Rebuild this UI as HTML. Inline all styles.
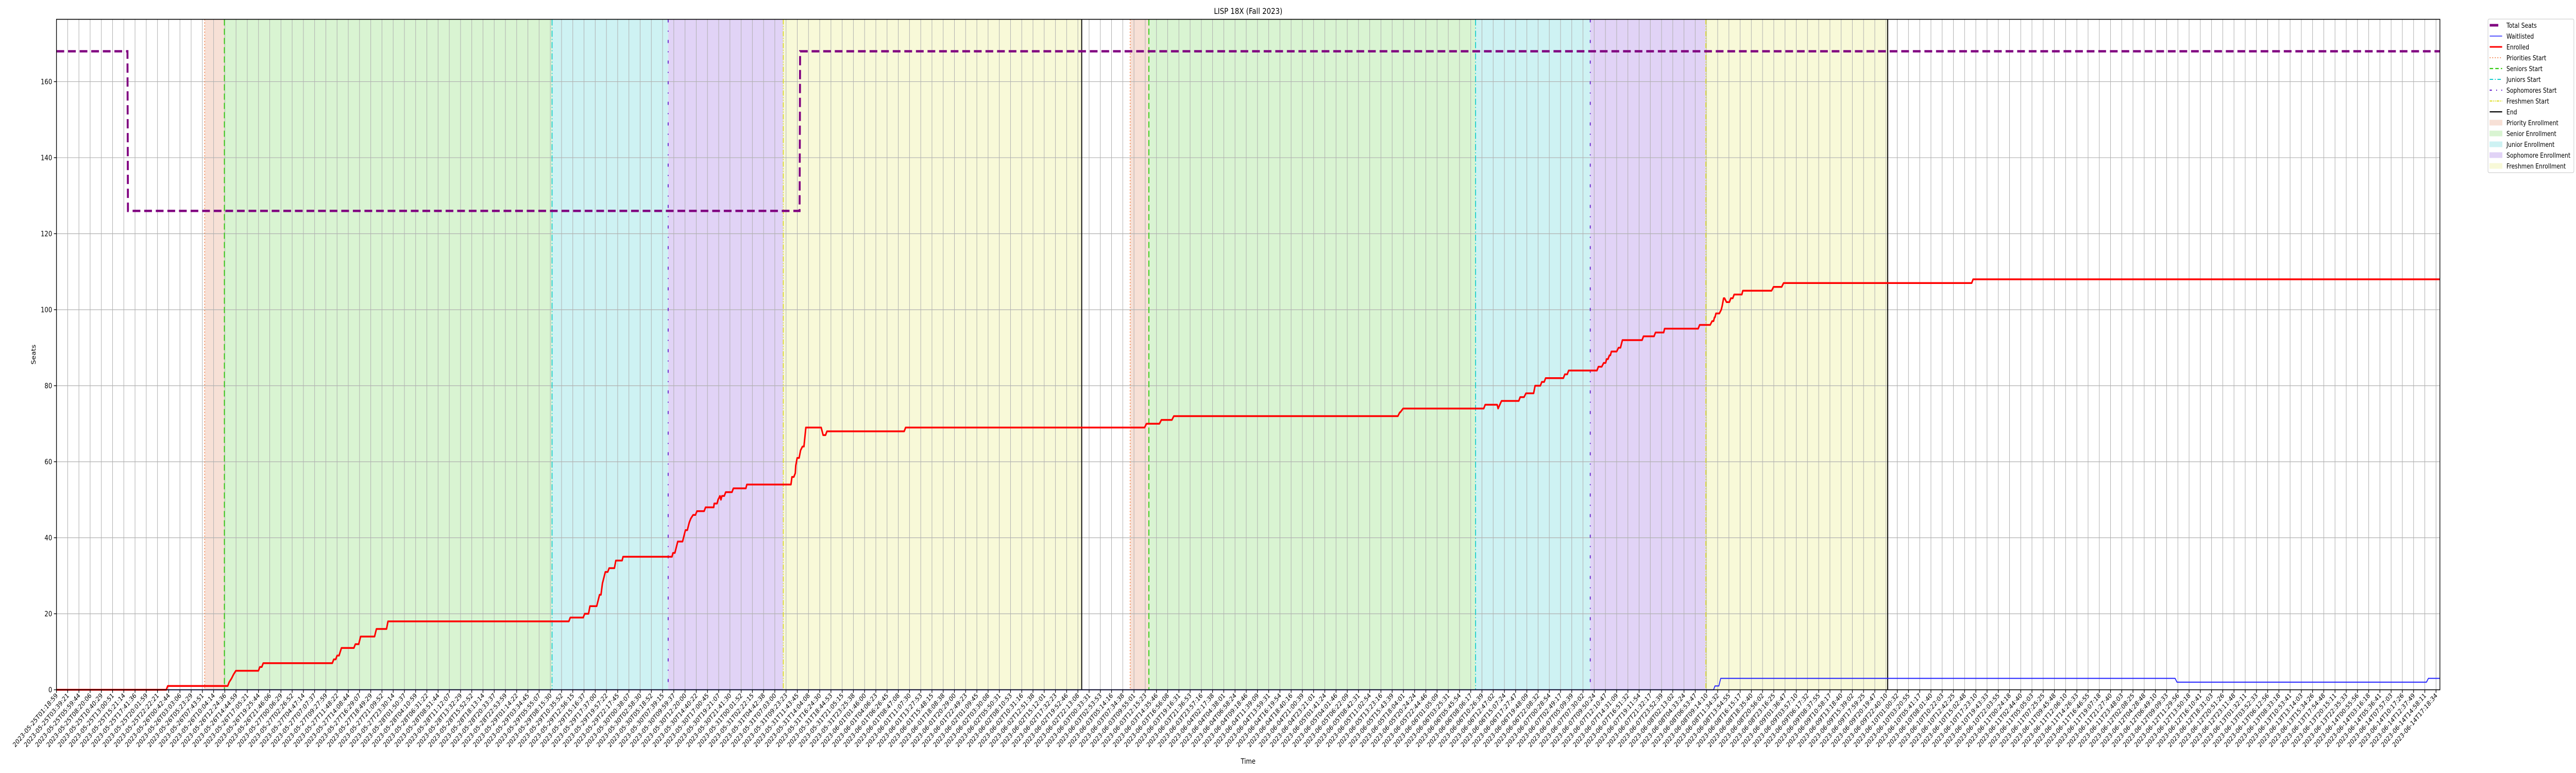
<!DOCTYPE html>
<html><head><meta charset="utf-8"><title>LISP 18X (Fall 2023)</title>
<style>html,body{margin:0;padding:0;background:#fff;width:100%;height:100%;overflow:hidden;}svg{display:block;width:100vw;height:100vh;overflow:hidden;font-family:"DejaVu Sans","Liberation Sans",sans-serif;}</style>
</head><body>
<svg id="chart" viewBox="0 0 6000 1500" preserveAspectRatio="none" xmlns="http://www.w3.org/2000/svg">
<rect width="6000" height="1500" fill="#fff"/>
<g id="regions"></g><g id="grid"></g><g id="vlines"></g><g id="series"></g><g id="axes"></g><g id="legend"></g>
</svg>
<script>
// ---- data (x values in hours since 2023-05-25T01:18:59) ----
const enrolledHours = [0,22.9,23.2,35.7,36.0,36.5,36.9,37.4,42.1,42.4,42.8,43.1,57.5,57.8,58.2,58.5,58.9,59.4,62.0,62.3,63.0,63.2,63.4,66.3,66.7,68.8,69.1,106.8,107.1,109.8,110.1,110.9,111.2,112.6,113.2,113.5,113.8,114.4,114.9,115.2,116.3,116.6,117.9,118.1,128.3,128.5,128.9,129.5,130.5,131.1,131.5,131.9,132.2,132.7,133.2,133.5,135.0,135.3,137.0,137.1,137.7,137.9,138.3,138.5,138.7,139.2,139.5,140.8,141.1,143.7,143.9,153.1,153.3,153.7,154.0,154.1,154.4,154.8,155.1,155.5,155.8,156.2,159.4,159.8,160.3,160.6,176.7,177.0,226.8,227.2,229.9,230.3,232.5,232.9,279.6,280.0,280.1,280.7,297.5,297.8,300.3,300.5,301.2,304.8,305.1,305.9,306.3,307.9,308.2,309.3,309.6,310.1,310.4,314.1,314.4,314.9,315.2,321.1,321.4,322.1,322.5,322.9,323.1,323.4,323.7,323.9,324.1,325.2,325.6,326.0,326.4,330.5,330.8,333.0,333.3,335.0,335.2,342.2,342.5,344.7,345.1,345.4,345.6,345.7,345.9,346.6,347.0,347.2,347.5,347.7,348.1,348.7,349.0,349.4,349.7,351.3,351.5,357.5,357.9,359.6,360.0,399.2,399.5,496.8];
const enrolledValues = [0,0,1,1,2,3,4,5,5,6,6,7,7,8,8,9,9,11,11,12,12,13,14,14,16,16,18,18,19,19,20,20,22,22,25,25,28,31,31,32,32,34,34,35,35,36,36,39,39,42,42,44,45,46,46,47,47,48,48,49,49,50,51,50,51,51,52,52,53,53,54,54,56,56,57,59,61,61,63,64,64,69,69,67,67,68,68,69,69,70,70,71,71,72,72,73,73,74,74,75,75,74,76,76,77,77,78,78,80,80,81,81,82,82,83,83,84,84,85,85,86,86,87,87,88,88,89,89,90,90,92,92,93,93,94,94,95,95,96,96,97,97,98,98,99,99,100,101,103,103,102,102,103,103,104,104,105,105,106,106,107,107,108,108];
const waitHours = [0,345.4,345.7,346.5,346.9,441.6,442.0,494.0,494.4,496.8];
const waitValues = [0,0,1,1,3,3,2,2,3,3];
const seatsHours = [0,14.8,14.9,154.9,155.0,496.8];
const seatsValues = [168,168,126,126,168,168];
const phaseStarts = [30.9,35.0,103.3,127.5,151.5,223.8,227.7,295.8,319.7,343.8];
const phaseEnds   = [35.0,103.3,127.5,151.5,213.7,227.7,295.8,319.7,343.8,381.7];
const phaseKinds  = ["priority","senior","junior","sophomore","freshmen","priority","senior","junior","sophomore","freshmen"];
const endHours = [213.7,381.7];
const yTicks = [0,20,40,60,80,100,120,140,160];
const tickCount = 213;
const tickStartLabel = "2023-05-25T01:18:59";
const tickStepHours = 2.33959;

// ---- scales ----
const X0=131.5, X1=5683, Y0=1338.5, Y1=37.5, XMAX=496.8, YMAX=176.4;
const sx = h => X0 + h/XMAX*(X1-X0);
const sy = v => Y0 - v/YMAX*(Y0-Y1);
const NS="http://www.w3.org/2000/svg";
function mk(tag, attrs, parent){const e=document.createElementNS(NS,tag);for(const k in attrs)e.setAttribute(k,attrs[k]);if(parent)parent.appendChild(e);return e;}
const fills={priority:"#f7e0d6",senior:"#d9f4d2",junior:"#cef2f3",sophomore:"#e1d3f6",freshmen:"#f8f9d8"};
const lineStyle={priority:["#f07030","2,4",1.8],senior:["#33cc11","12,6",2.2],junior:["#11cccc","12,4,2,4",2],sophomore:["#6622cc","6,16,2,16",2.2],freshmen:["#dddd22","10,3,2,3,2,3",2]};

const regions=document.getElementById('regions');
phaseStarts.forEach((s,i)=>{
  const r=mk('rect',{x:sx(s),y:Y1,width:sx(phaseEnds[i])-sx(s),height:Y0-Y1,fill:fills[phaseKinds[i]]},regions);
  
  
});

const grid=document.getElementById('grid');
const ticksX=[];
for(let i=0;i<tickCount;i++){ticksX.push(i*tickStepHours);}
ticksX.forEach(h=>{const l=mk('line',{x1:sx(h),x2:sx(h),y1:Y1,y2:Y0,stroke:"#b0b0b0","stroke-width":1.2},grid);
  
  });
yTicks.forEach(v=>{const l=mk('line',{x1:X0,x2:X1,y1:sy(v),y2:sy(v),stroke:"#b0b0b0","stroke-width":1.2},grid);
  
  });

const vl=document.getElementById('vlines');
phaseStarts.forEach((s,i)=>{const st=lineStyle[phaseKinds[i]];
  const l=mk('line',{x1:sx(s),x2:sx(s),y1:Y1,y2:Y0,stroke:st[0],"stroke-width":st[2],"stroke-dasharray":st[1]},vl);
  
  });
endHours.forEach(h=>{const l=mk('line',{x1:sx(h),x2:sx(h),y1:Y1,y2:Y0,stroke:"#000","stroke-width":2.2},vl);
  
  });

const ser=document.getElementById('series');
function pts(hs,vs){return hs.map((h,i)=>sx(h).toFixed(1)+","+sy(vs[i]).toFixed(1)).join(" ");}
const wl=mk('polyline',{points:pts(waitHours,waitValues),fill:"none",stroke:"#2020ff","stroke-width":2,"stroke-linejoin":"round"},ser);


const en=mk('polyline',{points:pts(enrolledHours,enrolledValues),fill:"none",stroke:"#ff0000","stroke-width":3.5,"stroke-linejoin":"round"},ser);


const ts=mk('polyline',{points:pts(seatsHours,seatsValues),fill:"none",stroke:"#800080","stroke-width":4.5,"stroke-dasharray":"18,9"},ser);



const ax=document.getElementById('axes');
const frame=mk('rect',{x:X0,y:Y1,width:X1-X0,height:Y0-Y1,fill:"none",stroke:"#000","stroke-width":1.6},ax);


yTicks.forEach(v=>{
  mk('line',{x1:X0-6,x2:X0,y1:sy(v),y2:sy(v),stroke:"#000","stroke-width":1.4},ax);
  const t=mk('text',{x:X0-10,y:sy(v)+5,"text-anchor":"end","font-size":14,fill:"#000"},ax);
  t.textContent=v;
  
  
});
const base=Date.UTC(2023,4,25,1,18,59);
function p2(n){return String(n).padStart(2,'0');}
ticksX.forEach(h=>{
  const x=sx(h);
  mk('line',{x1:x,x2:x,y1:Y0,y2:Y0+6,stroke:"#000","stroke-width":1.4},ax);
  const d=new Date(base+h*3600000);
  const s=d.getUTCFullYear()+"-"+p2(d.getUTCMonth()+1)+"-"+p2(d.getUTCDate())+"T"+p2(d.getUTCHours())+":"+p2(d.getUTCMinutes())+":"+p2(d.getUTCSeconds());
  const t=mk('text',{transform:`translate(${(x+4).toFixed(1)},${Y0+12}) rotate(-45)`,"text-anchor":"end","font-size":13,fill:"#000"},ax);
  t.textContent=(h===0?tickStartLabel:s);
  
  
});
const title=mk('text',{x:(X0+X1)/2,y:27,"text-anchor":"middle","font-size":16,fill:"#000"},ax);
title.textContent="LISP 18X (Fall 2023)";


const xl=mk('text',{x:(X0+X1)/2,y:1482,"text-anchor":"middle","font-size":14,fill:"#000"},ax);
xl.textContent="Time";


const yl=mk('text',{transform:`translate(83,${(Y0+Y1)/2}) rotate(-90)`,"text-anchor":"middle","font-size":14,fill:"#000"},ax);
yl.textContent="Seats";



const lg=document.getElementById('legend');
const lb=mk('rect',{x:5795,y:37,width:200,height:298,rx:3,fill:"#fff",stroke:"#d0d0d0","stroke-width":1.3},lg);


const legendLabels=["Total Seats","Waitlisted","Enrolled","Priorities Start","Seniors Start","Juniors Start","Sophomores Start","Freshmen Start","End","Priority Enrollment","Senior Enrollment","Junior Enrollment","Sophomore Enrollment","Freshmen Enrollment"];
const legendKinds=[["line","#800080",5,""],["line","#2020ff",1.5,""],["line","#ff0000",3,""],["line","#f07030",1.8,"2,4"],["line","#33cc11",2.2,"8,5"],["line","#11cccc",2,"8,4,2,4"],["line","#6622cc",2.2,"5,10,2,10"],["line","#dddd22",2,"6,2,2,2,2,2"],["line","#000",2.2,""],["rect","#f7e0d6"],["rect","#d9f4d2"],["rect","#cef2f3"],["rect","#e1d3f6"],["rect","#f8f9d8"]];
legendLabels.forEach((lab,i)=>{
  const y=49+i*21;
  const g=mk('g',{},lg);
  
  
  const k=legendKinds[i];
  if(k[0]==="line"){const a={x1:5799,x2:5828,y1:y,y2:y,stroke:k[1],"stroke-width":k[2]};if(k[3])a["stroke-dasharray"]=k[3];if(i===0){a.x2=5819;}mk('line',a,g);}
  else mk('rect',{x:5799,y:y-5,width:29,height:10,fill:k[1],stroke:k[1]},g);
  const t=mk('text',{x:5838,y:y+5,"font-size":13,fill:"#000"},g);
  t.textContent=lab;
});
</script>
</body></html>
